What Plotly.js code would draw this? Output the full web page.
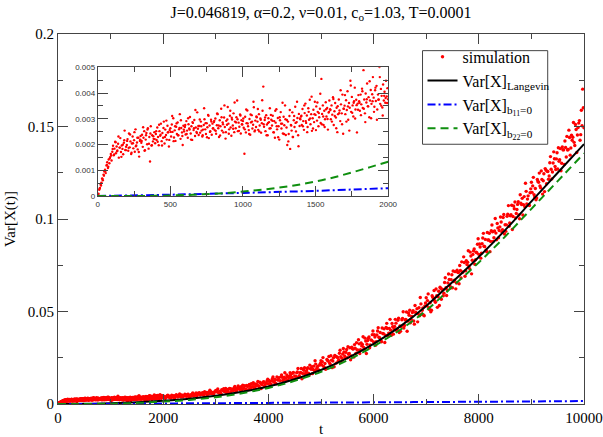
<!DOCTYPE html>
<html><head><meta charset="utf-8">
<script src="https://cdn.plot.ly/plotly-3.0.1.min.js"></script>
<style>html,body{margin:0;padding:0;background:#fff}#chart{width:603px;height:437px}</style>
</head><body><div id="chart"></div>
<script>
// ---- simulation, t = 0..2000 every 5 ----
const simEarlyStart = 0, simEarlyStep = 5;
const simEarly = [
0,.00009,.00024,.00031,.00045,.00052,.00068,.00061,.00083,.00095,.00102,.00089,.00118,.00131,.00109,.00142,.00127,.00151,.00163,.00138,
.00172,.00195,.00158,.00184,.00211,.00166,.00192,.00177,.00203,.00149,.00188,.00225,.00171,.00196,.00183,.00162,.00207,.00254,.00179,.00191,
.00198,.00221,.00176,.00243,.00189,.00212,.00163,.00204,.00231,.00185,.00217,.00172,.00259,.00196,.00208,.00181,.00226,.00153,.00214,.00233,
.00207,.00238,.00191,.00226,.00252,.00178,.00219,.00245,.00201,.00263,.00184,.00229,.00134,.00271,.00196,.00236,.00212,.00222,.00248,.00205,
.00241,.00218,.00266,.00229,.00197,.00252,.00234,.00281,.00213,.00245,.00226,.00289,.00204,.00258,.00237,.00219,.00273,.00248,.00192,.00256,
.00263,.00231,.00278,.00249,.00302,.00227,.00255,.00214,.00269,.00241,.00286,.00236,.00259,.00318,.00222,.00264,.00247,.00198,.00273,.00251,
.00268,.00239,.00291,.00254,.00226,.00279,.00262,.00307,.00243,.00271,.00218,.00284,.00256,.00295,.00233,.00266,.00249,.00325,.00261,.00237,
.00272,.00246,.00289,.00254,.00231,.00258,.00276,.00298,.00259,.00241,.00283,.00267,.00315,.00225,.00274,.00252,.00296,.00238,.00281,.00263,
.00287,.00256,.00301,.00242,.00275,.00318,.00263,.00229,.00294,.00271,.00339,.00254,.00286,.00247,.00305,.00268,.00223,.00292,.00277,.00346,
.00281,.00259,.00312,.00266,.00234,.00297,.00274,.00321,.00248,.00289,.00263,.00306,.00371,.00252,.00285,.00269,.00317,.00243,.00294,.00278,
.00291,.00265,.00164,.00308,.00247,.00283,.00332,.00271,.00256,.00299,.00238,.00286,.00314,.00262,.00277,.00345,.00251,.00293,.00268,.00306,
.00289,.00257,.00318,.00274,.00301,.00246,.00283,.00331,.00425,.00269,.00295,.00252,.00314,.00278,.00236,.00302,.00287,.00341,.00263,.00296,
.00274,.00312,.00248,.00291,.00226,.00285,.00337,.00259,.00303,.00271,.00219,.00294,.00326,.00262,.00281,.00243,.00308,.00275,.00352,.00237,
.00266,.00198,.00289,.00241,.00311,.00183,.00276,.00254,.00325,.00229,.00294,.00268,.00347,.00251,.00287,.00303,.00236,.00319,.00272,.00298,
.00309,.00276,.00338,.00291,.00257,.00322,.00359,.00284,.00313,.00268,.00341,.00296,.00374,.00279,.00318,.00253,.00302,.00335,.00287,.00366,
.00315,.00348,.00293,.00327,.00271,.00306,.00339,.00284,.00455,.00319,.00352,.00276,.00331,.00298,.00364,.00309,.00342,.00258,.00324,.00371,
.00337,.00298,.00352,.00316,.00384,.00276,.00329,.00361,.00305,.00343,.00248,.00318,.00375,.00332,.00291,.00356,.00321,.00394,.00242,.00339,
.00351,.00318,.00372,.00334,.00407,.00296,.00361,.00343,.00448,.00327,.00385,.00352,.00309,.00368,.00421,.00336,.00374,.00247,.00359,.00392,
.00368,.00331,.00394,.00356,.00417,.00342,.00489,.00375,.00321,.00398,.00363,.00437,.00349,.00384,.00306,.00371,.00412,.00358,.00395,.00462,
.00382,.00347,.00411,.00369,.00428,.00336,.00394,.00375,.00501,.00358,.00416,.00389,.00344,.00433,.00371,.00405,.00362,.00448,.00387,.00419,.00376
];
// ---- simulation, t = 2.5..1992.5 every 10 (interleaved samples) ----
const simEarlyBStart = 2.5, simEarlyBStep = 10;
const simEarlyB = [
.00006,.00028,.00041,.00066,.00079,.00097,.00121,.00114,.00146,.00157,
.00183,.00161,.00209,.00174,.00231,.00188,.00152,.00199,.00217,.00178,
.00214,.00187,.00239,.00168,.00205,.00248,.00193,.00226,.00171,.00219,
.00214,.00267,.00176,.00236,.00258,.00203,.00243,.00197,.00232,.00221,
.00252,.00211,.00277,.00238,.00196,.00264,.00229,.00293,.00247,.00218,
.00249,.00311,.00213,.00271,.00282,.00236,.00264,.00294,.00233,.00258,
.00276,.00241,.00302,.00258,.00219,.00287,.00263,.00334,.00245,.00272,
.00297,.00271,.00236,.00341,.00283,.00228,.00312,.00249,.00289,.00262,
.00292,.00253,.00321,.00274,.00235,.00306,.00279,.00352,.00248,.00297,
.00242,.00331,.00304,.00261,.00363,.00286,.00298,.00253,.00313,.00279,
.00301,.00259,.00336,.00282,.00241,.00317,.00289,.00366,.00255,.00309,
.00338,.00251,.00296,.00372,.00279,.00305,.00236,.00284,.00262,.00315,
.00292,.00247,.00331,.00271,.00228,.00306,.00281,.00362,.00241,.00298,
.00295,.00212,.00334,.00274,.00229,.00311,.00284,.00366,.00193,.00301,
.00312,.00271,.00352,.00291,.00248,.00327,.00301,.00386,.00262,.00318,
.00256,.00363,.00322,.00397,.00279,.00309,.00268,.00337,.00299,.00327,
.00334,.00289,.00377,.00311,.00263,.00349,.00322,.00411,.00279,.00339,
.00392,.00289,.00348,.00254,.00429,.00323,.00362,.00301,.00353,.00335,
.00362,.00314,.00407,.00339,.00287,.00376,.00348,.00446,.00302,.00368,
.00327,.00421,.00296,.00374,.00462,.00351,.00313,.00389,.00381,.00361
];
// ---- simulation, t = 2025..10000 every 25 ----
const simLateStart = 2025, simLateStep = 25;
const simLate = [
.0039,.0034,.00445,.0038,.00425,.0033,.0041,.00455,.0039,.00505,.0038,.0045,.0043,.00495,.00385,.0046,.0049,.0043,.00535,.00455,
.00448,.00534,.00428,.00514,.006,.005,.00562,.0048,.00548,.0061,.00462,.0059,.00628,.0057,.00548,.00676,.00606,.00554,.00652,.00738,
.00721,.0062,.00679,.0057,.00741,.00824,.00659,.00742,.00721,.00596,.00823,.00802,.00709,.0088,.00803,.00766,.00977,.00812,.00887,.0077,
.00845,.0099,.00805,.0096,.00775,.0097,.01095,.0093,.01065,.0093,.01015,.0122,.00935,.0112,.01045,.0118,.00965,.0114,.01255,.0109,
.01209,.01086,.01366,.01204,.01328,.01088,.01303,.01427,.01265,.01571,.01253,.01442,.01397,.01573,.01294,.01496,.01581,.01432,.01712,.01511,
.01495,.01728,.01449,.01682,.01915,.01652,.01821,.01606,.01791,.0196,.01569,.01914,.02019,.01868,.01813,.02158,.01975,.0184,.02105,.02338,
.02283,.02035,.02188,.0192,.02353,.02565,.02158,.0237,.02323,.02015,.02588,.0254,.02313,.02745,.02558,.0247,.03003,.02595,.02788,.025,
.02692,.03044,.02604,.0298,.0254,.03012,.03316,.02924,.03252,.02932,.0314,.03636,.02956,.03404,.03228,.03556,.03044,.03468,.03748,.03356,
.03621,.03364,.03944,.03606,.03862,.03362,.03807,.04063,.03725,.04359,.03697,.04088,.03993,.04357,.03776,.04194,.04369,.04058,.04638,.04219,
.04195,.0463,.04105,.0454,.04975,.0448,.04795,.0439,.04735,.0505,.04315,.0496,.05155,.0487,.04765,.0541,.05065,.0481,.05305,.0574,
.0559,.05212,.05474,.05064,.05774,.06132,.05498,.05856,.05798,.05324,.06258,.062,.05854,.06564,.06282,.0616,.0703,.06396,.06722,.0628,
.06615,.07155,.0654,.07115,.065,.07215,.07685,.0714,.07645,.07205,.07535,.08285,.0732,.08,.0777,.08275,.07555,.082,.08635,.0809,
.08486,.08154,.08969,.08526,.08897,.08232,.08862,.09233,.0879,.09679,.08792,.09348,.09238,.09757,.08981,.09574,.09834,.09428,.10243,.09689,
.09685,.10254,.09607,.10176,.10745,.10136,.10553,.10058,.10513,.1093,.10017,.10852,.11117,.10774,.10659,.11494,.11075,.1077,.11415,.11984,
.1179,.1132,.1165,.1114,.1203,.1248,.1169,.1214,.1207,.1148,.1265,.1258,.1215,.1304,.1269,.1254,.1363,.1284,.1325,.127,
.13115,.13805,.1301,.13745,.1295,.13865,.14465,.1376,.14405,.13835,.14255,.15215,.1397,.1484,.1454,.15185,.14255,.1588,.1702,.1493
];
// ---- simulation, t = 2012.5..9987.5 every 25 (interleaved samples) ----
const simLateBStart = 2012.5, simLateBStep = 25;
const simLateB = [
.00415,.00306,.00407,.00478,.00375,.00344,.00469,.00408,.00317,.00466,.00453,.00404,.00541,.00378,.00461,.00436,.00531,.00416,.00517,.0039,
.00397,.00517,.00602,.00456,.0052,.00395,.00585,.00614,.00517,.00588,.00498,.0066,.00577,.00487,.00635,.00741,.00567,.00631,.00548,.00682,
.00656,.00817,.00588,.00549,.0077,.00731,.00682,.00843,.00574,.00795,.00846,.00667,.00798,.00739,.0095,.00691,.00862,.00903,.00774,.00955,
.01014,.00861,.0072,.00999,.00954,.01053,.00852,.00927,.01158,.00849,.0108,.01047,.00978,.01185,.0084,.01131,.01206,.01029,.01128,.01335,
.01272,.00988,.01264,.0146,.01192,.01116,.01456,.013,.01064,.01468,.0144,.01316,.01688,.0126,.01488,.01428,.01688,.01388,.01664,.01332,
.01354,.01683,.01917,.01524,.01701,.01365,.01884,.01966,.01706,.01902,.01661,.02104,.01882,.01641,.02046,.02337,.01868,.02045,.01823,.0219,
.02114,.02507,.01963,.01876,.02412,.02325,.02213,.02606,.01966,.02503,.02631,.02208,.02528,.02393,.02905,.0229,.02706,.02811,.02507,.02948,
.03097,.02731,.02394,.03072,.02967,.0321,.02728,.02913,.03475,.02732,.03294,.03218,.03055,.03559,.02729,.03436,.03621,.03197,.0344,.03944,
.03744,.03176,.03728,.0412,.03584,.03432,.04112,.038,.03328,.04136,.0408,.03832,.04576,.0372,.04176,.04056,.04576,.03976,.04528,.03864,
.03927,.04548,.04989,.04242,.04575,.03936,.04917,.0507,.04575,.04944,.04485,.05322,.04899,.0444,.05205,.05754,.04863,.05196,.04773,.05466,
.05311,.05951,.05109,.04989,.05857,.05737,.05579,.06219,.05225,.06093,.06315,.05663,.06189,.05993,.06823,.05867,.06545,.06729,.06267,.06983,
.07189,.06686,.06225,.07234,.07109,.07488,.06817,.07112,.07953,.06904,.07745,.07662,.07453,.0821,.07035,.08086,.08381,.07794,.08173,.0893,
.08646,.07885,.08664,.09223,.08506,.08317,.09272,.08863,.08234,.09365,.09308,.08987,.1003,.08873,.0952,.09375,.1011,.09305,.10084,.09191,
.09332,.10143,.10724,.09787,.1023,.09431,.10702,.10915,.103,.10789,.1022,.11307,.10784,.10215,.1121,.11929,.10808,.11251,.10728,.11631,
.11441,.12251,.11189,.11039,.12137,.11987,.11789,.12599,.11345,.12443,.12725,.11903,.12569,.12323,.13373,.12167,.13025,.13259,.12677,.13583,
.13855,.13204,.12607,.139,.13735,.14218,.13351,.13726,.14803,.1345,.14527,.14416,.14143,.15112,.13597,.14944,.15319,.1456,.15043,.16012
];
// ---- theory curves ----
const curveT = [0,500,1000,1500,2000,2500,3000,3500,4000,4500,5000,5500,6000,6500,7000,7500,8000,8500,9000,9500,10000];
const varLangevin = [0,.0001,.0004,.0009,.0017,.0028,.0044,.0066,.0095,.0134,.0184,.0248,.0325,.0418,.0530,.0660,.0795,.0940,.1095,.1250,.1405];
const varB11 = [0,.00005,.00012,.0002,.0003,.00037,.00044,.00052,.0006,.00068,.00075,.00083,.0009,.00098,.00106,.00114,.00122,.0013,.00138,.00148,.0016];
const varB22 = [0,.00002,.00017,.00056,.00133,.0022,.0037,.0058,.0087,.0125,.0174,.0236,.0312,.0400,.0505,.0635,.0765,.0905,.1055,.1205,.1355];

const legendNames = ['simulation','Var[X]<sub>Langevin</sub>','Var[X]<sub>b<sub>11</sub>=0</sub>','Var[X]<sub>b<sub>22</sub>=0</sub>'];
const titleText = 'J=0.046819, \u03b1=0.2, \u03bd=0.01, c<sub>o</sub>=1.03, T=0.0001';

const SERIF = "'Liberation Serif', 'Times New Roman', serif";
const SANS = "'Liberation Sans', Arial, sans-serif";
const RED = '#ff0000', BLUE = '#0000ff', GREEN = '#0f8f0f', AX = '#444444';

const mainMarker = {color: RED, size: 3.4};
const insetMarker = {color: RED, size: 2.4};
const dashB11 = '8px,3px,2px,3px', dashB22 = '8px,5px';
const traces = [
  {x0: simEarlyStart, dx: simEarlyStep, y: simEarly, type: 'scatter', mode: 'markers', marker: mainMarker, name: legendNames[0], legendgroup: 'sim', xaxis: 'x', yaxis: 'y'},
  {x0: simEarlyBStart, dx: simEarlyBStep, y: simEarlyB, type: 'scatter', mode: 'markers', marker: mainMarker, legendgroup: 'sim', showlegend: false, xaxis: 'x', yaxis: 'y'},
  {x0: simLateStart, dx: simLateStep, y: simLate, type: 'scatter', mode: 'markers', marker: mainMarker, legendgroup: 'sim', showlegend: false, xaxis: 'x', yaxis: 'y'},
  {x0: simLateBStart, dx: simLateBStep, y: simLateB, type: 'scatter', mode: 'markers', marker: mainMarker, legendgroup: 'sim', showlegend: false, xaxis: 'x', yaxis: 'y'},
  {x: curveT, y: varLangevin, type: 'scatter', mode: 'lines', line: {color: '#000', width: 2, shape: 'spline'}, name: legendNames[1], xaxis: 'x', yaxis: 'y'},
  {x: curveT, y: varB11, type: 'scatter', mode: 'lines', line: {color: BLUE, width: 2, dash: dashB11, shape: 'spline'}, name: legendNames[2], xaxis: 'x', yaxis: 'y'},
  {x: curveT, y: varB22, type: 'scatter', mode: 'lines', line: {color: GREEN, width: 2, dash: dashB22, shape: 'spline'}, name: legendNames[3], xaxis: 'x', yaxis: 'y'},
  // inset
  {x0: simEarlyStart, dx: simEarlyStep, y: simEarly, type: 'scatter', mode: 'markers', marker: insetMarker, showlegend: false, xaxis: 'x2', yaxis: 'y2'},
  {x0: simEarlyBStart, dx: simEarlyBStep, y: simEarlyB, type: 'scatter', mode: 'markers', marker: insetMarker, showlegend: false, xaxis: 'x2', yaxis: 'y2'},
  {x: curveT, y: varB11, type: 'scatter', mode: 'lines', line: {color: BLUE, width: 2, dash: dashB11, shape: 'spline'}, showlegend: false, xaxis: 'x2', yaxis: 'y2'},
  {x: curveT, y: varB22, type: 'scatter', mode: 'lines', line: {color: GREEN, width: 2, dash: dashB22, shape: 'spline'}, showlegend: false, xaxis: 'x2', yaxis: 'y2'}
];

const baseAxis = (font, extra) => Object.assign({
  ticks: 'inside', ticklen: 10, tickwidth: 1, tickcolor: AX,
  showline: true, linecolor: AX, linewidth: 1, mirror: 'ticks',
  showgrid: false, zeroline: false, tickfont: font
}, extra);
const mainFont = {family: SERIF, size: 15, color: '#000'};
const insetFont = {family: SANS, size: 8, color: '#333'};

const layout = {
  width: 603, height: 437,
  margin: {l: 58, r: 19, t: 34, b: 33, pad: 0},
  paper_bgcolor: '#fff', plot_bgcolor: '#fff',
  showlegend: true,
  title: {text: titleText, font: {family: SERIF, size: 16, color: '#000'}, x: 0.5, xref: 'paper', y: 0.972, yref: 'container', yanchor: 'middle'},
  xaxis: baseAxis(mainFont, {domain: [0, 1], range: [0, 10000], dtick: 2000, tick0: 0, tickformat: 'd',
    minor: {dtick: 1000, ticks: 'inside', ticklen: 5, tickcolor: AX},
    title: {text: 't', font: mainFont, standoff: 4}}),
  yaxis: baseAxis(mainFont, {domain: [0, 1], range: [0, 0.2], dtick: 0.05, tick0: 0,
    minor: {dtick: 0.025, ticks: 'inside', ticklen: 5, tickcolor: AX},
    title: {text: 'Var[X(t)]', font: mainFont, standoff: 8}}),
  xaxis2: baseAxis(insetFont, {domain: [0.0756, 0.6277], anchor: 'y2', range: [0, 2000], dtick: 500, tick0: 0, tickformat: 'd',
    minor: {dtick: 250, ticks: 'inside', ticklen: 5, tickcolor: AX}}),
  yaxis2: baseAxis(insetFont, {domain: [0.5622, 0.91], anchor: 'x2', range: [0, 0.005], dtick: 0.001, tick0: 0,
    minor: {dtick: 0.0005, ticks: 'inside', ticklen: 5, tickcolor: AX}}),
  // legend frame drawn as a shape so that the entries can sit where the reference has them
  shapes: [{type: 'rect', xref: 'paper', yref: 'paper', x0: 0.693, x1: 0.931, y0: 0.702, y1: 0.955,
    line: {color: AX, width: 1}, fillcolor: '#fff', layer: 'above'}],
  legend: {x: 0.693, y: 0.984, xanchor: 'left', yanchor: 'top', bgcolor: 'rgba(0,0,0,0)', borderwidth: 0,
    font: {family: SERIF, size: 16, color: '#000'}, itemwidth: 30, tracegroupgap: 0}
};

Plotly.newPlot('chart', traces, layout, {displayModeBar: false, staticPlot: true});
</script>
</body></html>
